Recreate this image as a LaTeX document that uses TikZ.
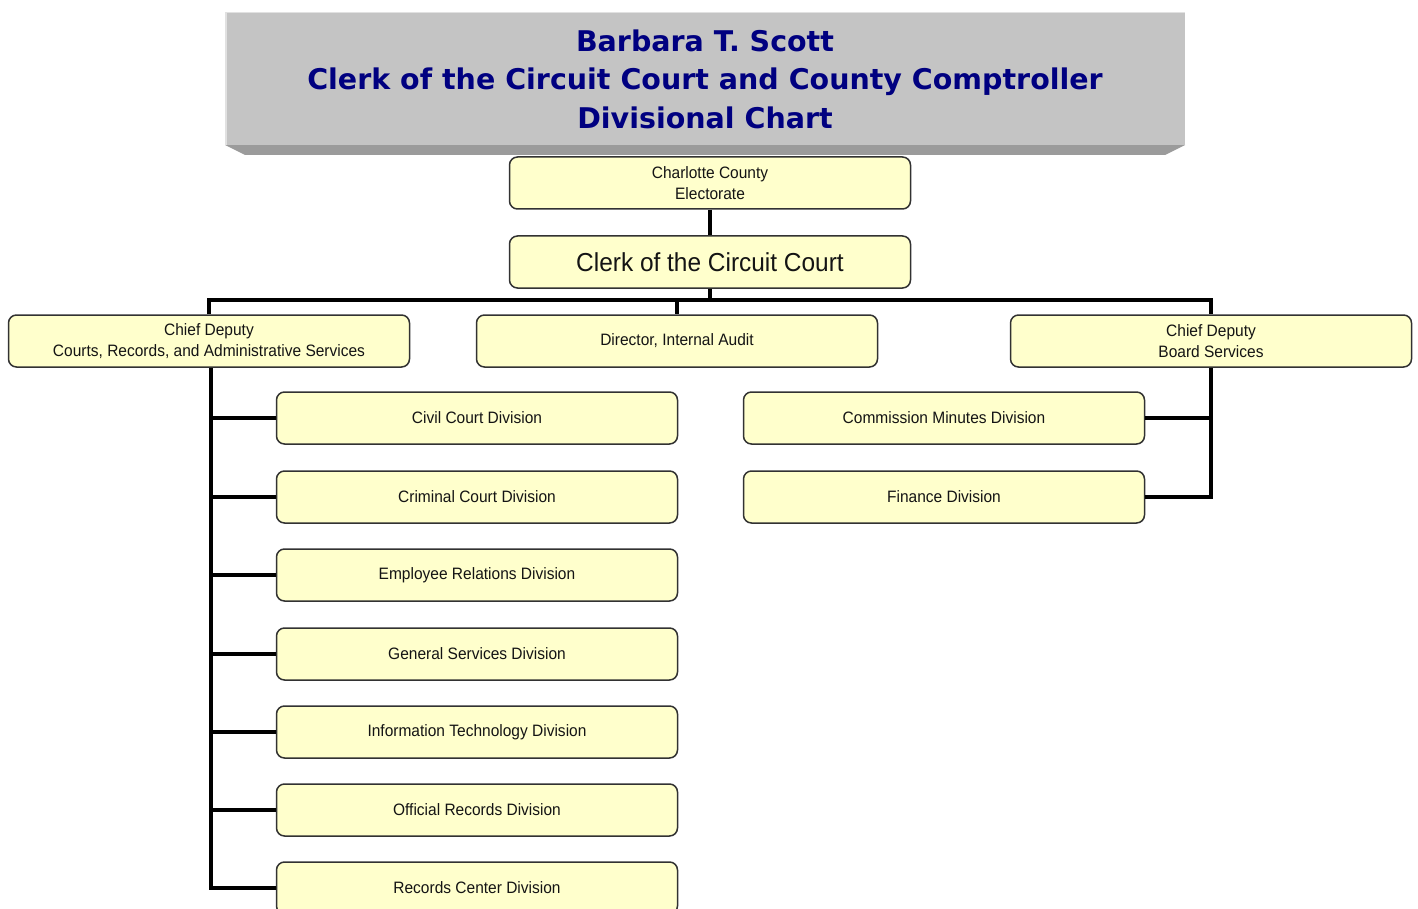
\documentclass[tikz,border=0pt]{standalone}
\usepackage{fontspec}
\setmainfont{Liberation Sans}
\newfontfamily\titlefont{DejaVu Sans}
\newfontfamily\boxfont[FakeStretch=0.94]{Liberation Sans}
\definecolor{navy}{RGB}{0,0,128}
\definecolor{boxfill}{RGB}{255,255,204}
\definecolor{boxline}{RGB}{50,50,50}
\definecolor{titlegray}{RGB}{196,196,196}
\definecolor{bevelgray}{RGB}{155,155,155}
\definecolor{edgegray}{RGB}{225,225,225}
\definecolor{txt}{RGB}{20,20,20}
\begin{document}
\begin{tikzpicture}[x=1pt,y=-1pt,
  orgbox/.style={draw=boxline,line width=1.5pt,fill=boxfill,rounded corners=8pt,
    minimum width=401pt,minimum height=52pt,inner sep=0pt,align=center,
    text=txt,font=\boxfont\fontsize{16.5}{21}\selectfont},
  bigbox/.style={orgbox,font=\boxfont\fontsize{26}{28}\selectfont},
  link/.style={line width=4.2pt,black,line join=miter}]
\useasboundingbox (0,0) rectangle (1418,909);
\clip (0,0) rectangle (1418,909);
% title banner
\fill[bevelgray] (225,145) -- (245,155) -- (1165,155) -- (1185,145) -- cycle;
\fill[titlegray] (225,12) rectangle (1185,145);
\draw[edgegray,line width=1.5pt] (225.75,145) -- (225.75,12.75) -- (1185,12.75);
\node[text=navy,font=\titlefont\bfseries\fontsize{28.5}{38.5}\selectfont,align=center]
  (title) at (705,79) {Barbara T. Scott\\Clerk of the Circuit Court and County Comptroller\\Divisional Chart};
% boxes
\node[orgbox] (elect) at (710,183) {Charlotte County\\Electorate};
\node[bigbox] (clerk) at (710,262) {Clerk of the Circuit Court};
\node[orgbox] (cra) at (209,341) {Chief Deputy\\Courts, Records, and Administrative Services};
\node[orgbox] (aud) at (677,341) {Director, Internal Audit};
\node[orgbox] (bsb) at (1211,341) {Chief Deputy\\Board Services};
\node[orgbox] (civ) at (477,418) {Civil Court Division};
\node[orgbox] (cri) at (477,497) {Criminal Court Division};
\node[orgbox] (emp) at (477,575) {Employee Relations Division};
\node[orgbox] (gen) at (477,654) {General Services Division};
\node[orgbox] (itd) at (477,732) {Information Technology Division};
\node[orgbox] (off) at (477,810) {Official Records Division};
\node[orgbox] (rcd) at (477,888) {Records Center Division};
\node[orgbox] (com) at (944,418) {Commission Minutes Division};
\node[orgbox] (fin) at (944,497) {Finance Division};
% connectors
\coordinate (bus) at (710,300);
\draw[link] (elect.south) -- (clerk.north);
\draw[link] (clerk.south) -- (bus);
\draw[link] (cra.north) -- (cra.north |- bus) -- (bsb.north |- bus) -- (bsb.north);
\draw[link] (aud.north |- bus) -- (aud.north);
\draw[link] ([xshift=2pt]cra.south) |- (rcd.west);
\foreach \n in {civ,cri,emp,gen,itd,off}
  \draw[link] ([xshift=2pt]cra.south |- \n.west) -- (\n.west);
\draw[link] (bsb.south) |- (fin.east);
\draw[link] (bsb.south |- com.east) -- (com.east);
\end{tikzpicture}
\end{document}
